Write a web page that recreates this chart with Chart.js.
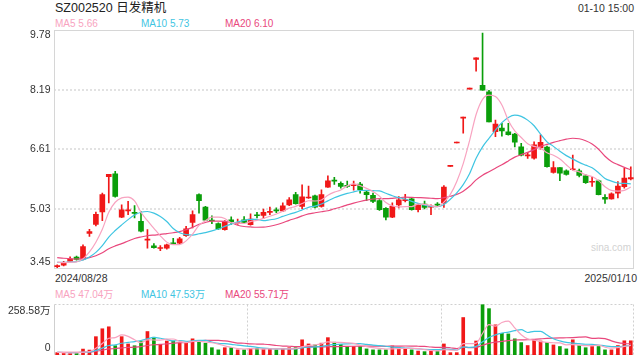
<!DOCTYPE html>
<html><head><meta charset="utf-8">
<script src="https://cdn.jsdelivr.net/npm/chart.js@4.4.1/dist/chart.umd.min.js"></script>
<style>
html,body{margin:0;padding:0;background:#fff;width:640px;height:360px;overflow:hidden;font-family:Arial,"Liberation Sans","Noto Sans CJK SC",sans-serif;}
.t{position:absolute;white-space:nowrap;line-height:1;}
canvas{position:absolute;left:0;}
</style></head><body>
<div class="t" style="left:55px;top:2px;font-size:12.5px;color:#222">SZ002520 日发精机</div>
<div class="t" style="right:6px;top:3px;font-size:10.5px;color:#333">01-10 15:00</div>
<div class="t" id="lg1" style="left:55px;top:19px;font-size:10px"></div>
<div class="t" style="left:55px;top:273px;font-size:10.5px;color:#333">2024/08/28</div>
<div class="t" style="right:3px;top:273px;font-size:10.5px;color:#333">2025/01/10</div>
<div class="t" style="left:591px;top:243px;font-size:10px;color:#d2d2d2">sina.com</div>
<div class="t" id="lg2" style="left:55px;top:290px;font-size:10px"></div>
<canvas id="c1" width="640" height="285" style="top:0"></canvas>
<canvas id="c2" width="640" height="75" style="top:285px"></canvas>
<script>
// ---- data ----
const aug = [28,29,30];
const sep = [2,3,4,5,6,9,10,11,12,13,18,19,20,23,24,25,26,27,30];
const oct = [8,9,10,11,14,15,16,17,18,21,22,23,24,25,28,29,30,31];
const nov = [1,4,5,6,7,8,11,12,13,14,15,18,19,20,21,22,25,26,27,28,29];
const dec = [2,3,4,5,6,9,10,11,12,13,16,17,18,19,20,23,24,25,26,27,30,31];
const jan = [2,3,6,7,8,9,10];

const open  = [3.50,3.54,3.64,3.75,3.70,4.38,4.62,4.95,5.89,5.96, 4.81,4.98,4.94,4.70,4.20,4.05,3.98,3.99,4.13,4.12,
               4.32,4.67,5.41,5.08,4.73,4.64,4.48,4.74,4.64,4.74, 4.61,4.87,4.86,4.94,5.00,4.98,5.14,5.41,5.10,5.32,
               5.38,5.10,5.61,5.79,5.71,5.65,5.65,5.69,5.48,5.39, 5.25,5.05,4.81,5.14,5.25,5.30,5.01,5.16,5.08,5.15,
               5.19,6.16,6.78,7.44,8.21,9.00,8.31,8.14,7.08,7.18, 7.08,7.02,6.68,6.44,6.38,6.66,6.67,6.00,6.13,6.04,
               6.07,6.04,5.91,5.74,5.78,5.34,5.30,5.45,5.62,5.83];
const high  = [3.55,3.64,3.76,3.78,4.08,4.49,4.95,5.45,5.95,6.03, 5.14,5.23,5.12,4.96,4.48,4.11,4.06,4.10,4.25,4.28,
               4.57,4.98,5.43,5.10,4.85,4.66,4.72,4.82,4.76,4.83, 4.90,4.94,5.03,5.08,5.06,5.19,5.33,5.47,5.67,5.64,
               5.40,5.54,5.91,5.87,5.75,5.77,5.77,5.74,5.52,5.45, 5.28,5.07,5.19,5.36,5.42,5.32,5.17,5.24,5.14,5.20,
               5.65,6.17,6.79,7.47,8.22,9.04,9.70,8.18,7.39,7.30, 7.30,7.04,6.77,6.53,6.81,7.00,6.70,6.29,6.13,6.07,
               6.46,6.09,5.94,5.87,5.80,5.41,5.46,5.76,6.11,6.15];
const low   = [3.47,3.52,3.63,3.67,3.68,4.30,4.58,4.72,5.19,5.34, 4.80,4.88,4.79,4.42,3.99,3.99,3.92,3.96,4.09,4.11,
               4.30,4.53,4.92,4.72,4.64,4.49,4.47,4.62,4.62,4.66, 4.60,4.79,4.77,4.88,4.93,4.96,5.12,5.16,5.04,5.31,
               5.06,5.08,5.60,5.68,5.58,5.60,5.53,5.45,5.25,5.20, 4.99,4.74,4.80,5.06,5.22,5.00,4.95,5.03,4.88,5.10,
               5.07,6.16,6.78,7.04,8.21,8.69,8.18,7.34,6.95,6.96, 6.99,6.68,6.44,6.37,6.35,6.62,6.14,5.98,5.78,5.93,
               6.06,5.88,5.71,5.63,5.40,5.18,5.29,5.32,5.58,5.80];
const close = [3.51,3.60,3.70,3.69,4.03,4.43,4.89,5.41,5.95,5.36, 5.01,5.00,4.91,4.44,4.23,4.00,4.00,4.08,4.10,4.24,
               4.50,4.88,5.25,4.73,4.71,4.50,4.69,4.69,4.67,4.67, 4.76,4.85,4.94,4.96,4.98,5.11,5.27,5.17,5.35,5.34,
               5.08,5.41,5.78,5.77,5.63,5.63,5.67,5.54,5.41,5.23, 5.01,4.81,5.10,5.27,5.27,5.01,5.14,5.07,5.10,5.13,
               5.61,6.17,6.79,7.47,8.22,9.04,8.18,7.34,7.28,7.10, 7.00,6.80,6.46,6.46,6.73,6.80,6.15,6.13,5.98,5.95,
               6.09,5.92,5.73,5.76,5.41,5.29,5.43,5.64,5.85,5.86];
// volume, unit 万
const volume = [12,8,10,12,30,25,93,133,143,47, 93,56,47,68,119,90,54,71,71,60,
                60,82,71,60,37,26,37,37,26,26, 34,34,31,31,26,31,37,37,77,56,
                51,60,88,65,54,43,43,43,31,26, 26,26,46,37,34,26,20,17,20,20,
                56,12,12,190,17,71,255,235,153,110, 107,82,63,48,77,71,63,51,43,31,
                77,48,37,43,43,26,26,48,72,72];
// sessions before 2024/08/28 (estimated, only feed the moving averages)
const priorClose  = [3.90,3.92,3.88,3.87,3.89,3.85,3.84,3.82,3.83,3.80,3.62,3.60,3.61,3.59,3.63,3.66,3.64,3.65,3.64];
const priorVolume = [15,14,16,13,14,15,13,12,14,15,13,14,12,13,15,14,13,12,14];
const yTickLabels = ['3.45','5.03','6.61','8.19','9.78'];
const yMin = 3.45, yMax = 9.78;
const volTickLabels = ['0','258.58万'];
const volMax = 258.58;
const legendPrice = ['MA5 5.66','MA10 5.73','MA20 6.10'];
const legendVol = ['MA5 47.04万','MA10 47.53万','MA20 55.71万'];

// ---- build ----
const pad = d => String(d).padStart(2,'0');
const categories = [].concat(
  aug.map(d=>'2024/08/'+pad(d)), sep.map(d=>'2024/09/'+pad(d)), oct.map(d=>'2024/10/'+pad(d)),
  nov.map(d=>'2024/11/'+pad(d)), dec.map(d=>'2024/12/'+pad(d)), jan.map(d=>'2025/01/'+pad(d)));

const RED='#f01818', GREEN='#0a9e0a';
const C5='#f8a3c0', C10='#3fc5e2', C20='#e9487d';
const MA_COLORS=[C5,C10,C20];

function movingAvg(series, prior, n){
  const full = prior.concat(series);
  return series.map((_, i) => {
    const end = i + prior.length;
    let s = 0; for (let k = end - n + 1; k <= end; k++) s += full[k];
    return +(s / n).toFixed(3);
  });
}
const candleColors = close.map((c,i)=> c >= open[i] ? RED : GREEN);
const bodies = categories.map((_, i) => [open[i], close[i]]);
const wicks = categories.map((_, i) => [low[i], high[i]]);

function legendHTML(el, texts){
  document.getElementById(el).innerHTML = texts.map((t,i)=>
    '<span style="position:absolute;left:'+[0,86,170][i]+'px;color:'+MA_COLORS[i]+'">'+t+'</span>').join('');
}
legendHTML('lg1', legendPrice);
legendHTML('lg2', legendVol);

function lineDS(data, color){
  return {type:'line', data, borderColor:color, borderWidth:1.2, pointRadius:0,
          cubicInterpolationMode:'monotone', fill:false, order:0};
}

const pricePlugin = {
  id:'priceFrame',
  beforeDatasetsDraw(chart){
    const {ctx, chartArea:a, scales:{y}} = chart;
    ctx.save();
    ctx.strokeStyle='#e2e2e2'; ctx.lineWidth=2; ctx.setLineDash([2,2]);
    yTickLabels.forEach((lab, i) => {
      if (i===0 || i===yTickLabels.length-1) return;
      const v = yMin + (yMax - yMin) * i / (yTickLabels.length - 1);
      const py = Math.round(y.getPixelForValue(v));
      ctx.beginPath(); ctx.moveTo(a.left, py); ctx.lineTo(a.right, py); ctx.stroke();
    });
    ctx.setLineDash([]); ctx.lineWidth=1; ctx.strokeStyle='#d6d6d6';
    ctx.strokeRect(Math.round(a.left)+0.5, Math.round(a.top)+0.5, Math.round(a.right-a.left)-1, Math.round(a.bottom-a.top)-1);
    ctx.restore();
  },
  afterDraw(chart){
    const {ctx, chartArea:a, scales:{y}} = chart;
    ctx.save();
    ctx.font='10.5px Arial, "Liberation Sans", sans-serif';
    ctx.fillStyle='#333'; ctx.textAlign='right'; ctx.textBaseline='middle';
    const n = yTickLabels.length;
    yTickLabels.forEach((lab, i) => {
      const v = yMin + (yMax - yMin) * i / (n - 1);
      let py = y.getPixelForValue(v);
      if (i===0) py -= 6; if (i===n-1) py += 5.5;
      ctx.fillText(lab, a.left - 3.5, py);
    });
    ctx.restore();
  }
};

new Chart(document.getElementById('c1'), {
  type:'bar',
  data:{labels:categories, datasets:[
    lineDS(movingAvg(close, priorClose, 5), C5),
    lineDS(movingAvg(close, priorClose, 10), C10),
    lineDS(movingAvg(close, priorClose, 20), C20),
    {type:'bar', data:bodies, backgroundColor:candleColors, barThickness:5, minBarLength:1, grouped:false, order:4},
    {type:'bar', data:wicks, backgroundColor:candleColors, barThickness:1, minBarLength:1, grouped:false, order:5}
  ]},
  options:{responsive:false, animation:false, events:[],
    layout:{padding:{left:54, right:6, top:30, bottom:16.5}},
    plugins:{legend:{display:false}, tooltip:{enabled:false}},
    scales:{x:{display:false, offset:true}, y:{display:false, min:yMin, max:yMax}}
  },
  plugins:[pricePlugin]
});

const volPlugin = {
  id:'volFrame',
  beforeDatasetsDraw(chart){
    const {ctx, chartArea:a} = chart;
    const L=Math.round(a.left)+0.5, R=Math.round(a.right)-0.5, T=Math.round(a.top)+0.5, B=Math.round(a.bottom)-0.5;
    ctx.save();
    ctx.strokeStyle='#d0d0d0'; ctx.lineWidth=1; ctx.setLineDash([2,2]);
    const seg=(x1,y1,x2,y2)=>{ctx.beginPath();ctx.moveTo(x1,y1);ctx.lineTo(x2,y2);ctx.stroke();};
    seg(L,T,R,T); seg(L,B,R,B); seg(R,T,R,B);
    [1/3, 2/3].forEach(f => { const x = Math.round(a.left + (a.right-a.left)*f)+0.5; seg(x,T,x,B); });
    ctx.setLineDash([]); ctx.strokeStyle='#cfcfcf'; seg(L,T,L,B);
    ctx.restore();
  },
  afterDraw(chart){
    const {ctx, chartArea:a} = chart;
    ctx.save();
    ctx.font='10.5px Arial, "Liberation Sans", "Noto Sans CJK SC", sans-serif';
    ctx.fillStyle='#333'; ctx.textAlign='right'; ctx.textBaseline='middle';
    ctx.fillText(volTickLabels[1], a.left - 3.5, a.top + 7.5);
    ctx.fillText(volTickLabels[0], a.left - 3.5, a.bottom - 6.5);
    ctx.restore();
  }
};

new Chart(document.getElementById('c2'), {
  type:'bar',
  data:{labels:categories, datasets:[
    lineDS(movingAvg(volume, priorVolume, 5), C5),
    lineDS(movingAvg(volume, priorVolume, 10), C10),
    lineDS(movingAvg(volume, priorVolume, 20), C20),
    {type:'bar', data:volume, backgroundColor:candleColors, barThickness:3, grouped:false, order:4}
  ]},
  options:{responsive:false, animation:false, events:[],
    layout:{padding:{left:54, right:6, top:19, bottom:5}},
    plugins:{legend:{display:false}, tooltip:{enabled:false}},
    scales:{x:{display:false, offset:true}, y:{display:false, min:0, max:volMax}}
  },
  plugins:[volPlugin]
});
</script>
</body></html>
